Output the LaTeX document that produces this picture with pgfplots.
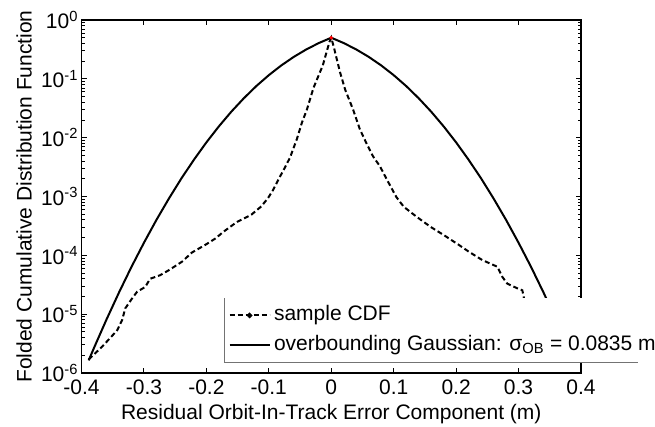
\documentclass[border=0pt]{standalone}
\usepackage{fontspec}
\setmainfont{Liberation Sans}
\usepackage{pgfplots}
\pgfplotsset{compat=1.18}
\newcommand{\fsz}{\fontsize{21}{25}\selectfont}
\begin{document}
\begin{tikzpicture}[x=1pt,y=1pt]
\begin{axis}[name=ax, at={(0,0)}, anchor=south west,
  width=499.5pt, height=353pt, scale only axis,
  xmin=-0.4, xmax=0.4, ymode=log, ymin=1e-6, ymax=1,
  xtick={-0.4,-0.3,-0.2,-0.1,0,0.1,0.2,0.3,0.4},
  xticklabels={-0.4,-0.3,-0.2,-0.1,0,0.1,0.2,0.3,0.4},
  ytick={1e-6,1e-5,1e-4,1e-3,1e-2,1e-1,1},
  yticklabels={10\textsuperscript{-6},10\textsuperscript{-5},10\textsuperscript{-4},10\textsuperscript{-3},10\textsuperscript{-2},10\textsuperscript{-1},10\textsuperscript{0}},
  tick align=inside, major tick length=5pt, minor tick length=3pt,
  axis line style={line width=1.3pt},
  every tick/.style={black, line width=0.9pt},
  tick label style={font=\fsz},
  xticklabel style={yshift=-3pt},
  label style={font=\fsz},
  xlabel={Residual Orbit-In-Track Error Component (m)},
  ylabel={Folded Cumulative Distribution Function},
  xlabel style={at={(axis description cs:0.5,-0.116)}, anchor=center},
  ylabel style={at={(axis description cs:-0.115,0.5)}, anchor=center},
  legend style={at={(axis description cs:0.286,0.2125)}, anchor=north west, draw=none, fill=white, font=\fsz, row sep=3.5pt, inner sep=4pt, nodes={inner sep=3.5pt, text height=15pt, text depth=4.5pt}},
  legend cell align=left,
  legend image code/.code={\draw[mark repeat=2,mark phase=2,#1] plot coordinates {(0pt,0pt) (20pt,0pt) (40pt,0pt)};},
]
\addlegendimage{black, line width=2pt, dash pattern=on 5pt off 3pt, mark=*, mark size=1.6pt, mark options={solid}}
\addlegendentry{sample CDF}
\addlegendimage{black, line width=2pt}
\addlegendentry{overbounding Gaussian: σ\textsubscript{OB} = 0.0835 m}
\addplot[black, line width=2pt, forget plot] coordinates {
(-0.3885,1.64e-6) (-0.38,2.67e-6) (-0.36,8.1e-6) (-0.34,2.33e-5) (-0.32,6.36e-5)
(-0.30,1.636e-4) (-0.28,4.0e-4) (-0.26,9.24e-4) (-0.24,2.03e-3) (-0.22,4.21e-3)
(-0.20,8.31e-3) (-0.18,1.556e-2) (-0.16,2.77e-2) (-0.14,4.68e-2) (-0.12,7.54e-2)
(-0.10,0.1155) (-0.08,0.169) (-0.06,0.2362) (-0.04,0.316) (-0.02,0.4054) (0,0.5)
(0.02,0.4054) (0.04,0.316) (0.06,0.2362) (0.08,0.169) (0.10,0.1155)
(0.12,7.54e-2) (0.14,4.68e-2) (0.16,2.77e-2) (0.18,1.556e-2) (0.20,8.31e-3)
(0.22,4.21e-3) (0.24,2.03e-3) (0.26,9.24e-4) (0.28,4.0e-4) (0.30,1.636e-4)
(0.32,6.36e-5) (0.34,2.33e-5) (0.36,8.1e-6) (0.38,2.67e-6) (0.3885,1.64e-6)
};
\addplot[black, line width=2pt, dash pattern=on 5pt off 3pt, forget plot] coordinates {
(-0.3885,1.7e-6) (-0.367,2.8e-6) (-0.343,5.3e-6) (-0.335,7.9e-6) (-0.330,1.25e-5)
(-0.319,1.85e-5) (-0.311,2.4e-5) (-0.298,2.9e-5) (-0.290,4.0e-5) (-0.274,4.6e-5)
(-0.260,5.6e-5) (-0.239,7.8e-5) (-0.223,1.12e-4) (-0.202,1.5e-4) (-0.185,1.95e-4)
(-0.173,2.5e-4) (-0.151,3.7e-4) (-0.128,4.9e-4) (-0.112,6.8e-4) (-0.101,9.5e-4)
(-0.093,1.3e-3) (-0.084,2.0e-3) (-0.075,3.0e-3) (-0.066,4.6e-3) (-0.055,9.5e-3)
(-0.047,1.8e-2) (-0.039,3.0e-2) (-0.0285,7.0e-2) (-0.0135,0.17) (-0.003,0.42) (0,0.5)
(0.004,0.35) (0.014,0.13) (0.0224,0.065) (0.035,0.030) (0.0457,0.014) (0.0564,8.0e-3)
(0.067,4.8e-3) (0.0777,3.3e-3) (0.089,1.95e-3) (0.104,9.9e-4) (0.116,6.7e-4)
(0.137,4.5e-4) (0.159,3.05e-4) (0.1805,2.2e-4) (0.2045,1.5e-4) (0.2205,1.15e-4)
(0.242,8.3e-5) (0.266,6.4e-5) (0.274,4.3e-5) (0.282,3.3e-5) (0.298,2.75e-5)
(0.306,2.55e-5) (0.3085,1.9e-5) (0.310,1.5e-5)
};
\addplot[only marks, mark=*, mark size=1.6pt, red, forget plot] coordinates {(0,0.5)};
\end{axis}
\draw[black!55, line width=0.8pt] (142.8,75) -- (142.8,11) -- (556.5,11);
\pgfresetboundingbox
\path (-81.5,-53) rectangle (573.5,373);
\end{tikzpicture}
\end{document}
